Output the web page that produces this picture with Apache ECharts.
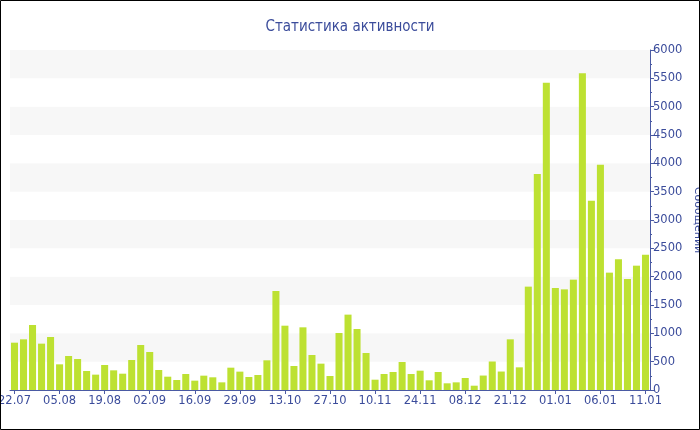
<!DOCTYPE html>
<html><head><meta charset="utf-8">
<script src="https://cdn.jsdelivr.net/npm/echarts@6/dist/echarts.min.js"></script>
<style>html,body{margin:0;padding:0;background:#fff}#c{width:700px;height:430px}</style>
</head><body><div id="c"></div>
<script>
const categories = [
 '22.07','25.07','28.07','31.07','02.08',
 '05.08','08.08','11.08','14.08','16.08',
 '19.08','22.08','25.08','28.08','30.08',
 '02.09','05.09','08.09','11.09','13.09',
 '16.09','19.09','21.09','24.09','26.09',
 '29.09','02.10','05.10','08.10','10.10',
 '13.10','16.10','19.10','22.10','24.10',
 '27.10','30.10','02.11','05.11','07.11',
 '10.11','13.11','16.11','19.11','21.11',
 '24.11','27.11','30.11','03.12','05.12',
 '08.12','11.12','14.12','17.12','19.12',
 '21.12','24.12','27.12','29.12','31.12',
 '01.01','02.01','03.01','04.01','05.01',
 '06.01','07.01','08.01','09.01','10.01',
 '11.01'
];
const messages = [
 835, 894, 1147, 818, 935,
 453, 600, 547, 335, 271,
 441, 347, 288, 529, 794,
 671, 353, 235, 176, 282,
 165, 253, 224, 135, 394,
 324, 229, 265, 524, 1747,
 1135, 424, 1106, 618, 465,
 247, 1006, 1330, 1076, 653,
 182, 282, 318, 494, 282,
 341, 171, 318, 118, 135,
 212, 76, 255, 503, 326,
 894, 400, 1824, 3812, 5424,
 1800, 1776, 1947, 5588, 3341,
 3976, 2071, 2306, 1959, 2194,
 2388
];
const yTicks = { min: 0, max: 6000, interval: 500 };
const titleText = 'Статистика активности';
const yName = 'Сообщений';

const blue = '#3b4c9b';
const chart = echarts.init(document.getElementById('c'), null, {renderer: 'canvas'});
chart.setOption({
  animation: false,
  title: {
    text: titleText, left: 'center', top: 15,
    textStyle: { color: blue, fontSize: 15, fontWeight: 'normal', fontFamily: '"DejaVu Sans Condensed", "DejaVu Sans", sans-serif' }
  },
  graphic: [{
    type: 'rect', silent: true, z: 100,
    shape: { x: 0.5, y: 0.5, width: 699, height: 429 },
    style: { fill: 'none', stroke: '#000', lineWidth: 1 }
  }],
  grid: { left: 10, right: 50, top: 50, bottom: 40, containLabel: false, outerBoundsMode: 'none' },
  xAxis: {
    type: 'category', data: categories, boundaryGap: true,
    axisLine: { lineStyle: { color: '#4a5aa3', width: 1 } },
    axisTick: { show: true, interval: 4, alignWithLabel: true, length: 4, lineStyle: { color: '#4a5aa3' } },
    axisLabel: { interval: 4, color: blue, fontSize: 11.5, fontFamily: '"DejaVu Sans", sans-serif', margin: 5, showMinLabel: true, showMaxLabel: true, hideOverlap: false },
    splitLine: { show: false }
  },
  yAxis: {
    type: 'value', position: 'right', min: yTicks.min, max: yTicks.max, interval: yTicks.interval,
    name: yName, nameLocation: 'middle', nameRotate: -90, nameGap: 42, nameMoveOverlap: false,
    nameTextStyle: { color: blue, fontSize: 11, fontFamily: '"DejaVu Sans", sans-serif' },
    axisLine: { show: true, lineStyle: { color: '#4a5aa3', width: 1 } },
    axisTick: { show: true, length: 4, lineStyle: { color: '#4a5aa3' } },
    minorTick: { show: true, splitNumber: 2, length: 2, lineStyle: { color: '#4a5aa3' } },
    axisLabel: { color: blue, fontSize: 11.5, fontFamily: '"DejaVu Sans", sans-serif', margin: 3, formatter: v => String(v) },
    splitLine: { show: false },
    splitArea: { show: true, areaStyle: { color: ['#ffffff', '#f7f7f7'] } }
  },
  series: [{
    type: 'bar', data: messages, barCategoryGap: '22%',
    itemStyle: { color: '#bde132' }
  }]
});
</script></body></html>
